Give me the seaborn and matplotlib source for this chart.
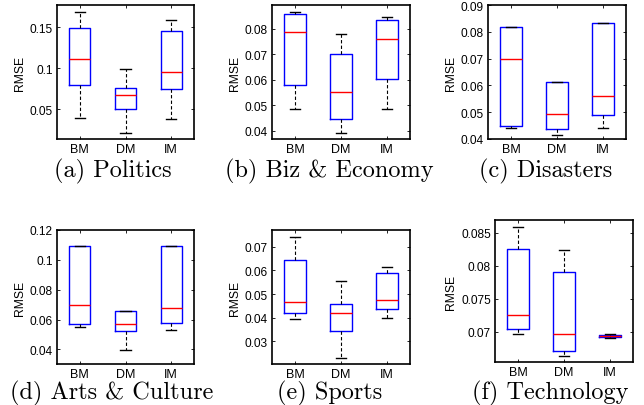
import numpy as np
import pandas as pd
import seaborn as sns
import matplotlib.pyplot as plt
from matplotlib.ticker import FuncFormatter

# Cada modelo: [mínimo, Q1, mediana, Q3, máximo]
modelos = ['BM', 'DM', 'IM']

politics = [[0.0399, 0.0796, 0.1111, 0.1492, 0.1690],
            [0.0209, 0.0504, 0.0674, 0.0763, 0.0996],
            [0.0383, 0.0743, 0.0960, 0.1456, 0.1589]]
economy = [[0.0486, 0.0581, 0.0786, 0.0855, 0.0865],
           [0.0391, 0.0448, 0.0553, 0.0701, 0.0778],
           [0.0486, 0.0603, 0.0761, 0.0834, 0.0845]]
disasters = [[0.0442, 0.0447, 0.0700, 0.0817, 0.0818],
             [0.0414, 0.0438, 0.0494, 0.0612, 0.0613],
             [0.0441, 0.0491, 0.0560, 0.0833, 0.0834]]
arts = [[0.0551, 0.0569, 0.0696, 0.1093, 0.1094],
        [0.0398, 0.0520, 0.0569, 0.0654, 0.0655],
        [0.0527, 0.0578, 0.0679, 0.1091, 0.1092]]
sports = [[0.0394, 0.0418, 0.0466, 0.0644, 0.0742],
          [0.0231, 0.0343, 0.0421, 0.0457, 0.0553],
          [0.0399, 0.0436, 0.0473, 0.0587, 0.0614]]
technology = [[0.0697, 0.0704, 0.0725, 0.0825, 0.0858],
              [0.0663, 0.0671, 0.0697, 0.0791, 0.0823],
              [0.0691, 0.0692, 0.0694, 0.0696, 0.06965]]

titulos = ['(a) Politics', '(b) Biz & Economy', '(c) Disasters',
           '(d) Arts & Culture', '(e) Sports', '(f) Technology']

ticks_y = [[0.05, 0.1, 0.15],
           [0.04, 0.05, 0.06, 0.07, 0.08],
           [0.04, 0.05, 0.06, 0.07, 0.08, 0.09],
           [0.04, 0.06, 0.08, 0.1, 0.12],
           [0.03, 0.04, 0.05, 0.06, 0.07],
           [0.07, 0.075, 0.08, 0.085]]
limites_y = [(0.0140, 0.1771), (0.0368, 0.0892), (0.04, 0.09),
             (0.0302, 0.12), (0.0205, 0.077), (0.06545, 0.0869)]

datos = [politics, economy, disasters, arts, sports, technology]

plt.rcParams['font.family'] = ['Liberation Sans', 'DejaVu Sans']

fig = plt.figure(figsize=(6.44, 4.06), dpi=100)

# posiciones de los ejes en píxeles: izquierda, arriba, ancho, alto
cajas_px = [(57, 6, 137, 134), (272, 6, 138, 134), (488, 6, 138, 134),
            (57, 231, 137, 134), (272, 231, 138, 134), (495, 221, 138, 142)]
centros_titulo = [(113, 177), (329, 177), (546, 177),
                  (112, 399), (329.5, 399), (550, 399)]

W, H = 644, 406

for i, resumen in enumerate(datos):
    l, t, w, h = cajas_px[i]
    ax = fig.add_axes([l / W, (H - t - h) / H, w / W, h / H])

    df = pd.DataFrame({
        'Modelo': np.repeat(modelos, 5),
        'RMSE': np.concatenate(resumen),
    })

    sns.boxplot(data=df, x='Modelo', y='RMSE', ax=ax, fill=False,
                color='blue', width=0.46, whis=np.inf, linewidth=1,
                medianprops=dict(color='red', linewidth=1),
                whiskerprops=dict(color='black', linestyle=(0, (3, 2)), linewidth=0.8),
                capprops=dict(color='black', linewidth=1))

    ax.set_xlim(-0.5, 2.5)
    ax.set_ylim(*limites_y[i])
    ax.set_yticks(ticks_y[i])
    ax.yaxis.set_major_formatter(FuncFormatter(lambda v, p: f'{v:g}'))
    ax.set_xlabel('')
    ax.set_ylabel('RMSE', fontsize=8.7, labelpad=3)
    ax.tick_params(direction='in', length=2, width=0.6, top=True, right=True, pad=3)
    ax.tick_params(axis='y', labelsize=8.6)
    ax.tick_params(axis='x', labelsize=9)
    for s in ax.spines.values():
        s.set_linewidth(1.2)
        s.set_color('black')

    cx, cy = centros_titulo[i]
    fig.text(cx / W, (H - cy) / H, titulos[i], family='cmr10', fontsize=17.5,
             ha='center', va='baseline')

fig.savefig('out.png', dpi=100)
